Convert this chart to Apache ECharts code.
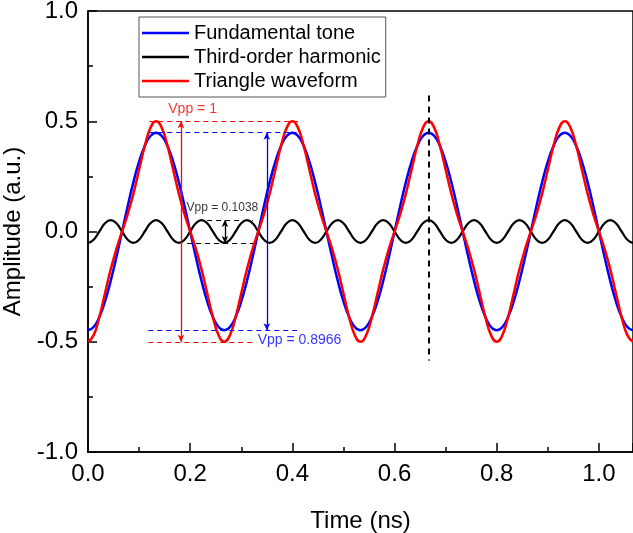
<!DOCTYPE html>
<html>
<head>
<meta charset="utf-8">
<script src="https://cdn.jsdelivr.net/npm/echarts@6/dist/echarts.min.js"></script>
<style>
  html, body { margin: 0; padding: 0; background: #fff; }
  #myChart { width: 633px; height: 533px; }
</style>
</head>
<body>
<div id="myChart"></div>
<script>
// time samples (ns)
var time = [0, 0.0111, 0.0222, 0.0333, 0.0444, 0.0556, 0.0667, 0.0778, 0.0889, 0.1, 0.1111, 0.1222,
  0.1333, 0.1444, 0.1556, 0.1667, 0.1778, 0.1889, 0.2, 0.2111, 0.2222, 0.2333, 0.2444, 0.2556,
  0.2667, 0.2778, 0.2889, 0.3, 0.3111, 0.3222, 0.3333, 0.3444, 0.3556, 0.3667, 0.3778, 0.3889,
  0.4, 0.4111, 0.4222, 0.4333, 0.4444, 0.4556, 0.4667, 0.4778, 0.4889, 0.5, 0.5111, 0.5222,
  0.5333, 0.5444, 0.5556, 0.5667, 0.5778, 0.5889, 0.6, 0.6111, 0.6222, 0.6333, 0.6444, 0.6556,
  0.6667, 0.6778, 0.6889, 0.7, 0.7111, 0.7222, 0.7333, 0.7444, 0.7556, 0.7667, 0.7778, 0.7889,
  0.8, 0.8111, 0.8222, 0.8333, 0.8444, 0.8556, 0.8667, 0.8778, 0.8889, 0.9, 0.9111, 0.9222,
  0.9333, 0.9444, 0.9556, 0.9667, 0.9778, 0.9889, 1, 1.0111, 1.0222, 1.0333, 1.0444, 1.0556, 1.0667];

var fundamental = [-0.448, -0.433, -0.388, -0.317, -0.224, -0.116, 0, 0.116, 0.224, 0.317, 0.388, 0.433,
  0.448, 0.433, 0.388, 0.317, 0.224, 0.116, 0, -0.116, -0.224, -0.317, -0.388, -0.433,
  -0.448, -0.433, -0.388, -0.317, -0.224, -0.116, 0, 0.116, 0.224, 0.317, 0.388, 0.433,
  0.448, 0.433, 0.388, 0.317, 0.224, 0.116, 0, -0.116, -0.224, -0.317, -0.388, -0.433,
  -0.448, -0.433, -0.388, -0.317, -0.224, -0.116, 0, 0.116, 0.224, 0.317, 0.388, 0.433,
  0.448, 0.433, 0.388, 0.317, 0.224, 0.116, 0, -0.116, -0.224, -0.317, -0.388, -0.433,
  -0.448, -0.433, -0.388, -0.317, -0.224, -0.116, 0, 0.116, 0.224, 0.317, 0.388, 0.433,
  0.448, 0.433, 0.388, 0.317, 0.224, 0.116, 0, -0.116, -0.224, -0.317, -0.388, -0.433, -0.448];

var harmonic = [-0.052, -0.037, 0, 0.037, 0.052, 0.037, 0, -0.037, -0.052, -0.037, 0, 0.037,
  0.052, 0.037, 0, -0.037, -0.052, -0.037, 0, 0.037, 0.052, 0.037, 0, -0.037,
  -0.052, -0.037, 0, 0.037, 0.052, 0.037, 0, -0.037, -0.052, -0.037, 0, 0.037,
  0.052, 0.037, 0, -0.037, -0.052, -0.037, 0, 0.037, 0.052, 0.037, 0, -0.037,
  -0.052, -0.037, 0, 0.037, 0.052, 0.037, 0, -0.037, -0.052, -0.037, 0, 0.037,
  0.052, 0.037, 0, -0.037, -0.052, -0.037, 0, 0.037, 0.052, 0.037, 0, -0.037,
  -0.052, -0.037, 0, 0.037, 0.052, 0.037, 0, -0.037, -0.052, -0.037, 0, 0.037,
  0.052, 0.037, 0, -0.037, -0.052, -0.037, 0, 0.037, 0.052, 0.037, 0, -0.037, -0.052];

var triangle = [-0.5, -0.47, -0.388, -0.28, -0.172, -0.079, 0, 0.079, 0.172, 0.28, 0.388, 0.47,
  0.5, 0.47, 0.388, 0.28, 0.172, 0.079, 0, -0.079, -0.172, -0.28, -0.388, -0.47,
  -0.5, -0.47, -0.388, -0.28, -0.172, -0.079, 0, 0.079, 0.172, 0.28, 0.388, 0.47,
  0.5, 0.47, 0.388, 0.28, 0.172, 0.079, 0, -0.079, -0.172, -0.28, -0.388, -0.47,
  -0.5, -0.47, -0.388, -0.28, -0.172, -0.079, 0, 0.079, 0.172, 0.28, 0.388, 0.47,
  0.5, 0.47, 0.388, 0.28, 0.172, 0.079, 0, -0.079, -0.172, -0.28, -0.388, -0.47,
  -0.5, -0.47, -0.388, -0.28, -0.172, -0.079, 0, 0.079, 0.172, 0.28, 0.388, 0.47,
  0.5, 0.47, 0.388, 0.28, 0.172, 0.079, 0, -0.079, -0.172, -0.28, -0.388, -0.47, -0.5];

var seriesNames = ['Fundamental tone', 'Third-order harmonic', 'Triangle waveform'];
var yTicks = [-1, -0.5, 0, 0.5, 1];

// annotation segments in data coords: [x1, y1, x2, y2]
var blueDashes = [[0.12, 0.4483, 0.408, 0.4483], [0.118, -0.4483, 0.409, -0.4483]];
var blueArrow = [0.35, 0.4483, 0.35, -0.4483];
var redDashes = [[0.12, 0.5, 0.411, 0.5], [0.118, -0.5, 0.33, -0.5]];
var redArrow = [0.182, 0.5, 0.182, -0.5];
var blackDashes = [[0.2155, 0.0519, 0.323, 0.0519], [0.194, -0.0519, 0.323, -0.0519]];
var blackArrow = [0.268, 0.0519, 0.268, -0.0519];
var markerLine = [0.6667, 0.617, 0.6667, -0.585];

// annotation texts: [x, y, text]
var notes = [
  [0.2047, 0.556, 'Vpp = 1'],
  [0.263, 0.11, 'Vpp = 0.1038'],
  [0.414, -0.494, 'Vpp = 0.8966']
];
var noteColors = ['#ff0000', '#000000', '#0000ff'];
var noteSizes = [14, 12, 14];

var font = 'Liberation Sans, Arial, sans-serif';

function pairs(ys) {
  return time.map(function (t, i) { return [t, ys[i]]; });
}

function seg(s, color, width, type, arrow) {
  var a = { coord: [s[0], s[1]] }, b = { coord: [s[2], s[3]] };
  if (arrow) {
    a.symbol = 'arrow'; a.symbolSize = [5, 7];
    b.symbol = 'arrow'; b.symbolSize = [5, 7];
  }
  a.lineStyle = { color: color, width: width, type: type, opacity: 1 };
  b.lineStyle = { color: color, width: width, type: type, opacity: 1 };
  a.itemStyle = { color: color };
  b.itemStyle = { color: color };
  return [a, b];
}

function marks(dashes, arrow, color) {
  var d = dashes.map(function (s) { return seg(s, color, 1, [5, 4], false); });
  d.push(seg(arrow, color, 1.3, 'solid', true));
  return {
    silent: true,
    symbol: ['none', 'none'],
    label: { show: false },
    lineStyle: { color: color, opacity: 1 },
    itemStyle: { color: color },
    data: d
  };
}

var myChart = echarts.init(document.getElementById('myChart'));

var blackMarks = marks(blackDashes, blackArrow, '#000');
blackMarks.data.push(seg(markerLine, '#000', 2, [6, 5], false));

var option = {
  animation: false,
  backgroundColor: '#fff',
  grid: {
    left: 88, top: 11, width: 545, height: 441,
    outerBoundsMode: 'none', containLabel: false,
    show: true, borderColor: '#000', borderWidth: 1.5, backgroundColor: 'transparent'
  },
  legend: {
    data: seriesNames,
    orient: 'vertical',
    left: 139, top: 17,
    padding: [6, 5, 6, 3],
    itemGap: 4,
    icon: 'rect',
    itemWidth: 47, itemHeight: 2.6,
    borderColor: '#555', borderWidth: 1,
    backgroundColor: '#fff',
    textStyle: { fontFamily: font, fontSize: 20, lineHeight: 20, color: '#000' }
  },
  xAxis: [{
    type: 'value', min: 0, max: 1.0667, interval: 0.2,
    position: 'bottom',
    name: 'Time (ns)', nameLocation: 'middle', nameGap: 57,
    nameTextStyle: { fontFamily: font, fontSize: 24, color: '#000' },
    axisLine: { onZero: false, lineStyle: { color: '#000', width: 1.5 } },
    axisTick: { inside: true, length: 9, lineStyle: { color: '#000', width: 1.5 } },
    axisLabel: {
      margin: 10, fontFamily: font, fontSize: 24, color: '#000',
      formatter: function (v) {
        var r = v / 0.2;
        return Math.abs(r - Math.round(r)) < 1e-6 ? v.toFixed(1) : '';
      }
    },
    splitLine: { show: false }
  }, {
    type: 'value', min: 0, max: 1.0667, interval: 0.1,
    position: 'bottom',
    axisLine: { onZero: false, show: false },
    axisTick: { inside: true, length: 5, lineStyle: { color: '#000', width: 1.5 } },
    axisLabel: { show: false },
    splitLine: { show: false }
  }],
  yAxis: {
    type: 'value', min: yTicks[0], max: yTicks[yTicks.length - 1], interval: 0.5,
    name: 'Amplitude (a.u.)', nameLocation: 'middle', nameGap: 51,
    nameTextStyle: { fontFamily: font, fontSize: 24, color: '#000' },
    axisLine: { show: true, onZero: false, lineStyle: { color: '#000', width: 1.5 } },
    axisTick: { show: true, inside: true, length: 9, lineStyle: { color: '#000', width: 1.5 } },
    minorTick: { show: true, splitNumber: 2, length: 5, lineStyle: { color: '#000', width: 1.5 } },
    axisLabel: {
      margin: 10, fontFamily: font, fontSize: 24, color: '#000',
      formatter: function (v) { return v.toFixed(1); }
    },
    splitLine: { show: false },
    minorSplitLine: { show: false }
  },
  series: [{
    name: seriesNames[0], type: 'line', data: pairs(fundamental),
    smooth: true, symbol: 'none', color: '#0000ff',
    lineStyle: { color: '#0000ff', width: 2.5 },
    markLine: marks(blueDashes, blueArrow, '#0000ff')
  }, {
    name: seriesNames[1], type: 'line', data: pairs(harmonic),
    smooth: true, symbol: 'none', color: '#000',
    lineStyle: { color: '#000', width: 2.2 },
    markLine: blackMarks
  }, {
    name: seriesNames[2], type: 'line', data: pairs(triangle),
    smooth: true, symbol: 'none', color: '#ff0000',
    lineStyle: { color: '#ff0000', width: 2.5 },
    markLine: marks(redDashes, redArrow, '#ff0000')
  }, {
    name: 'notes', type: 'scatter', symbolSize: 0, silent: true,
    data: notes.map(function (n, i) {
      return {
        value: [n[0], n[1]],
        label: {
          show: true, position: 'inside', formatter: n[2],
          fontFamily: font, fontSize: noteSizes[i], color: noteColors[i]
        }
      };
    })
  }]
};

myChart.setOption(option);
</script>
</body>
</html>
